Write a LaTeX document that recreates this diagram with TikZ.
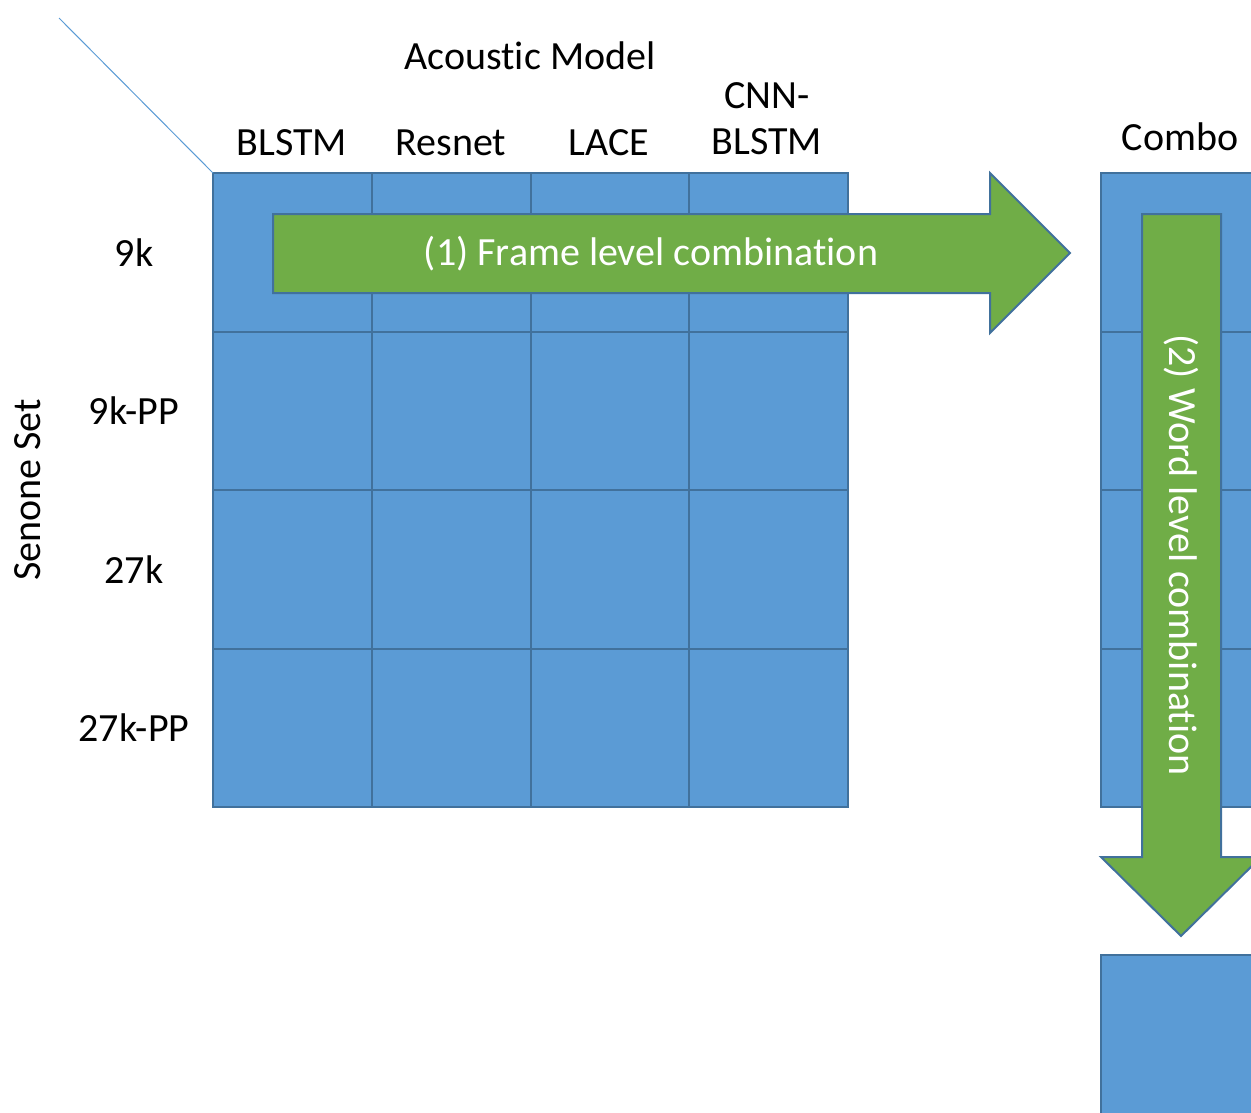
\documentclass[tikz,border=0pt]{standalone}
\usepackage{fontspec}
\setmainfont{Carlito}[Ligatures=NoCommon]
\definecolor{cellblue}{HTML}{5B9BD5}
\definecolor{edgeblue}{HTML}{41719C}
\definecolor{arrowgreen}{HTML}{70AD47}
\begin{document}
\begin{tikzpicture}[x=1pt,y=-1pt,
  cell/.style={draw=edgeblue,fill=cellblue,line width=2pt,minimum width=158.75pt,minimum height=158.5pt,anchor=north west,inner sep=0pt,outer sep=0pt},
  label/.style={font=\fontsize{40}{48}\selectfont,inner sep=0pt},
  bigarrow/.style={draw=edgeblue,fill=arrowgreen,line width=2pt,line join=miter},
  arrowtext/.style={label,text=white}]
\useasboundingbox (0,0) rectangle (1251,1112);
\clip (0,0) rectangle (1251,1112);

% diagonal header line of the table
\coordinate (corner) at (59,18);
% 4x4 grid of acoustic model / senone set cells
\foreach \r in {0,1,2,3}{
  \foreach \c in {0,1,2,3}{
    \node[cell] (cell-\r-\c) at ({213+158.75*\c},{173+158.5*\r}) {};
  }
}
\draw[cellblue,line width=1pt] (corner) -- (cell-0-0.north west);

% combination column and final result box
\foreach \r in {0,1,2,3}{
  \node[cell] (combo-\r) at (1101,{173+158.5*\r}) {};
}
\node[cell] (result) at (1101,955) {};

% column headers
\node[label] (am) at (530,56) {Acoustic Model};
\node[label] (h1) at (292,143) {BLSTM};
\node[label] (h2) at (451,143) {Resnet};
\node[label] (h3) at (609,143) {LACE};
\node[label,align=center] (h4) at (767,119) {CNN-\\[-2pt]BLSTM};
\node[label] (hc) at (1180,137) {Combo};

% row headers
\node[label] (r1) at (134,253) {9k};
\node[label] (r2) at (134,411) {9k-PP};
\node[label] (r3) at (134,570) {27k};
\node[label] (r4) at (134,728) {27k-PP};
\node[label,rotate=90] (ss) at (28,490) {Senone Set};

% (1) frame level combination arrow
\draw[bigarrow] (273,214) -- (990,214) -- (990,173) -- (1070,253) -- (990,333) -- (990,293) -- (273,293) -- cycle;
\node[arrowtext] (t1) at (651,254) {(1) Frame level combination};

% (2) word level combination arrow
\draw[bigarrow] (1142,214) -- (1221,214) -- (1221,857) -- (1261,857) -- (1181,936) -- (1101,857) -- (1142,857) -- cycle;
\node[arrowtext,rotate=-90] (t2) at (1181,555) {(2) Word level combination};
\end{tikzpicture}
\end{document}
